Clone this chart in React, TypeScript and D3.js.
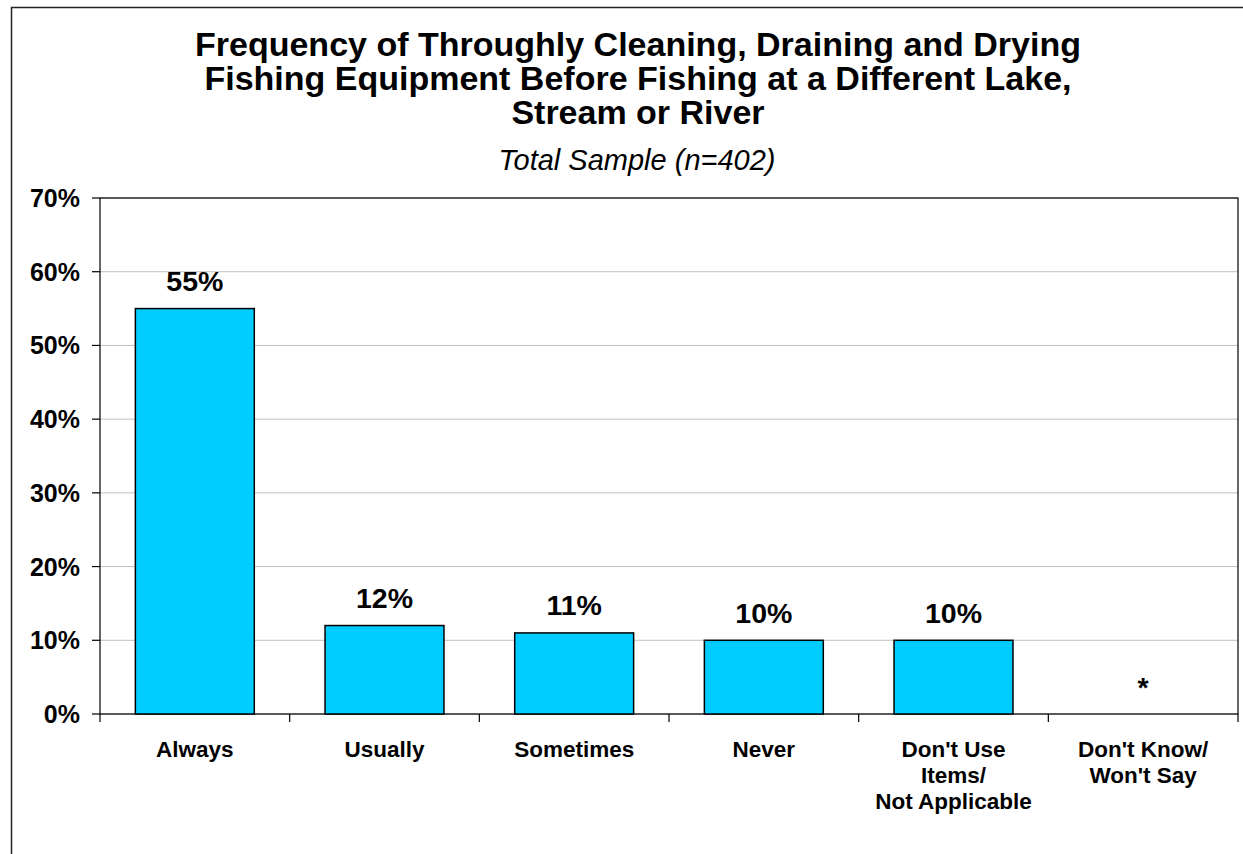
import React from "react";
import * as d3 from "d3";

const categories: string[][] = [
  ["Always"],
  ["Usually"],
  ["Sometimes"],
  ["Never"],
  ["Don't Use", "Items/", "Not Applicable"],
  ["Don't Know/", "Won't Say"],
];
const values: number[] = [55, 12, 11, 10, 10, 0];
const valueLabels: string[] = ["55%", "12%", "11%", "10%", "10%", "*"];
const yTicks: number[] = [0, 10, 20, 30, 40, 50, 60, 70];
const titleLines: string[] = [
  "Frequency of Throughly Cleaning, Draining and Drying",
  "Fishing Equipment Before Fishing at a Different Lake,",
  "Stream or River",
];
const subtitle = "Total Sample (n=402)";

const W = 1243;
const H = 854;
const FONT = "'Liberation Sans', Arial, Helvetica, sans-serif";

export default function App() {
  const left = 100, right = 1238, top = 198, bottom = 714;
  const y = d3.scaleLinear().domain([0, 70]).range([bottom, top]);
  const idx = categories.map((_, i) => String(i));
  const x = d3
    .scaleBand<string>()
    .domain(idx)
    .range([left, right])
    .paddingInner(0.373)
    .paddingOuter(0.1865);
  const step = x.step();
  const boundaries = d3.range(categories.length + 1).map((i) => left + i * step);

  return (
    <svg
      width={W}
      height={H}
      style={{ position: "absolute", left: 0, top: 0, background: "#fff" }}
      fontFamily={FONT}
    >
      <rect x={0} y={0} width={W} height={H} fill="#fff" />
      <rect x={11.5} y={7.5} width={1300} height={900} fill="none" stroke="#222" strokeWidth={1.5} />

      <text x={638} y={56} textAnchor="middle" fontSize={34} fontWeight="bold" fill="#000">
        {titleLines.map((t, i) => (
          <tspan key={i} x={638} dy={i === 0 ? 0 : 34}>
            {t}
          </tspan>
        ))}
      </text>
      <text x={637} y={170} textAnchor="middle" fontSize={29} fontStyle="italic" fill="#000">
        {subtitle}
      </text>

      {/* gridlines */}
      {yTicks.map((t) => (
        <line key={"g" + t} x1={left} x2={right} y1={y(t)} y2={y(t)} stroke="#c0c0c0" strokeWidth={1} />
      ))}

      {/* plot border */}
      <rect x={left} y={top} width={right - left} height={bottom - top} fill="none" stroke="#000" strokeWidth={1.2} />

      {/* bars */}
      {values.map((v, i) =>
        v > 0 ? (
          <rect
            key={"b" + i}
            x={x(String(i))}
            y={y(v)}
            width={x.bandwidth()}
            height={y(0) - y(v)}
            fill="#00CCFF"
            stroke="#000"
            strokeWidth={1.5}
          />
        ) : null
      )}

      {/* value labels */}
      {values.map((v, i) => (
        <text
          key={"v" + i}
          x={(x(String(i)) as number) + x.bandwidth() / 2}
          y={y(v) - 17.5}
          textAnchor="middle"
          fontSize={28.5}
          fontWeight="bold"
          fill="#000"
        >
          {valueLabels[i]}
        </text>
      ))}

      {/* y axis ticks & labels */}
      {yTicks.map((t) => (
        <g key={"y" + t}>
          <line x1={92} x2={left} y1={y(t)} y2={y(t)} stroke="#000" strokeWidth={1.2} />
          <text x={80} y={y(t)} dy="0.36em" textAnchor="end" fontSize={25} fontWeight="bold" fill="#000">
            {t + "%"}
          </text>
        </g>
      ))}

      {/* x ticks */}
      {boundaries.map((b, i) => (
        <line key={"xt" + i} x1={b} x2={b} y1={bottom} y2={bottom + 8} stroke="#000" strokeWidth={1.2} />
      ))}

      {/* category labels */}
      {categories.map((lines, i) => (
        <text
          key={"c" + i}
          x={(x(String(i)) as number) + x.bandwidth() / 2}
          y={757}
          textAnchor="middle"
          fontSize={22.5}
          fontWeight="bold"
          fill="#000"
        >
          {lines.map((l, j) => (
            <tspan key={j} x={(x(String(i)) as number) + x.bandwidth() / 2} dy={j === 0 ? 0 : 26}>
              {l}
            </tspan>
          ))}
        </text>
      ))}
    </svg>
  );
}
